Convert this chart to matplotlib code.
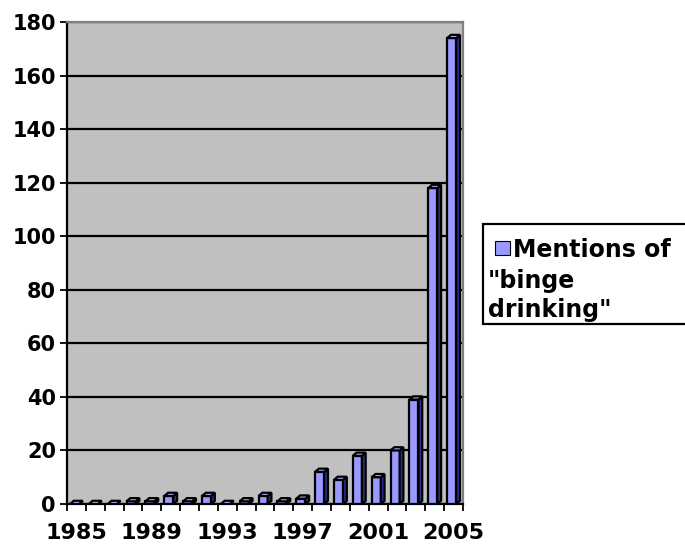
import matplotlib
matplotlib.use("Agg")
import matplotlib.pyplot as plt
from matplotlib.patches import Polygon, Rectangle
import numpy as np

plt.rcParams["font.family"] = ["DejaVu Sans"]
plt.rcParams["font.weight"] = "bold"

years = list(range(1985, 2006))
mentions = [0, 0, 0, 1, 1, 3, 1, 3, 0, 1, 3, 1, 2, 12, 9, 18, 10, 20, 39, 118, 174]
label_years = [1985, 1989, 1993, 1997, 2001, 2005]
y_ticks = [0, 20, 40, 60, 80, 100, 120, 140, 160, 180]
legend_lines = ["Mentions of", '"binge', 'drinking"']

front_color = "#9999ff"
side_color = "#2e2e8a"
top_color = "#b3b3ff"
wall_color = "#c0c0c0"

fig = plt.figure(figsize=(6.85, 5.44), dpi=100)
ax = fig.add_axes([67 / 685, 40 / 544, 396 / 685, 482 / 544])
ax.set_facecolor(wall_color)

x = np.arange(len(years))
bar_w = 0.48
dx, dy = 0.2, 1.2  # fake 3d depth in data units

ax.set_axisbelow(True)
ax.yaxis.grid(True, color="black", linewidth=1.6)
bars = ax.bar(x - dx / 2, mentions, width=bar_w, color=front_color,
              edgecolor="black", linewidth=1.6, zorder=3)

for xi, v in zip(x, mentions):
    left = xi - dx / 2 - bar_w / 2
    right = left + bar_w
    side = Polygon([(right, 0), (right + dx, dy), (right + dx, v + dy), (right, v)],
                   closed=True, facecolor=side_color, edgecolor="black",
                   linewidth=1.6, zorder=3)
    top = Polygon([(left, v), (left + dx, v + dy), (right + dx, v + dy), (right, v)],
                  closed=True, facecolor=top_color, edgecolor="black",
                  linewidth=1.6, zorder=3)
    ax.add_patch(side)
    ax.add_patch(top)

ax.set_xlim(-0.5, len(years) - 0.5)
ax.set_ylim(0, 180)
ax.set_yticks(y_ticks)
ax.set_yticklabels([str(t) for t in y_ticks], fontsize=15, fontweight="bold")
ax.tick_params(axis="y", length=5, width=1.3, direction="out", pad=3)

ax.set_xticks([years.index(y) for y in label_years])
ax.set_xticklabels([str(y) for y in label_years], fontsize=16, fontweight="bold")
ax.set_xticks(np.arange(-0.5, len(years)), minor=True)
ax.tick_params(axis="x", which="major", length=0, pad=14)
ax.tick_params(axis="x", which="minor", length=5, width=1.3, direction="out")

for s in ["left", "bottom"]:
    ax.spines[s].set_color("black")
    ax.spines[s].set_linewidth(1.6)
for s in ["top", "right"]:
    ax.spines[s].set_color("#808080")
    ax.spines[s].set_linewidth(1.6)

# legend box, drawn by hand so the label wraps under the key like the original
fig.patches.append(Rectangle((483 / 685, 220 / 544), 230 / 685, 100 / 544,
                             transform=fig.transFigure, facecolor="white",
                             edgecolor="black", linewidth=1.6))
fig.patches.append(Rectangle((495 / 685, 289 / 544), 15 / 685, 14 / 544,
                             transform=fig.transFigure, facecolor=front_color,
                             edgecolor="black", linewidth=0.8))
fig.text(513 / 685, 287 / 544, legend_lines[0], fontsize=17, fontweight="bold",
         va="baseline", ha="left")
fig.text(488 / 685, 256 / 544, legend_lines[1], fontsize=17, fontweight="bold",
         va="baseline", ha="left")
fig.text(488 / 685, 227 / 544, legend_lines[2], fontsize=17, fontweight="bold",
         va="baseline", ha="left")

fig.savefig("out.png", dpi=100)
